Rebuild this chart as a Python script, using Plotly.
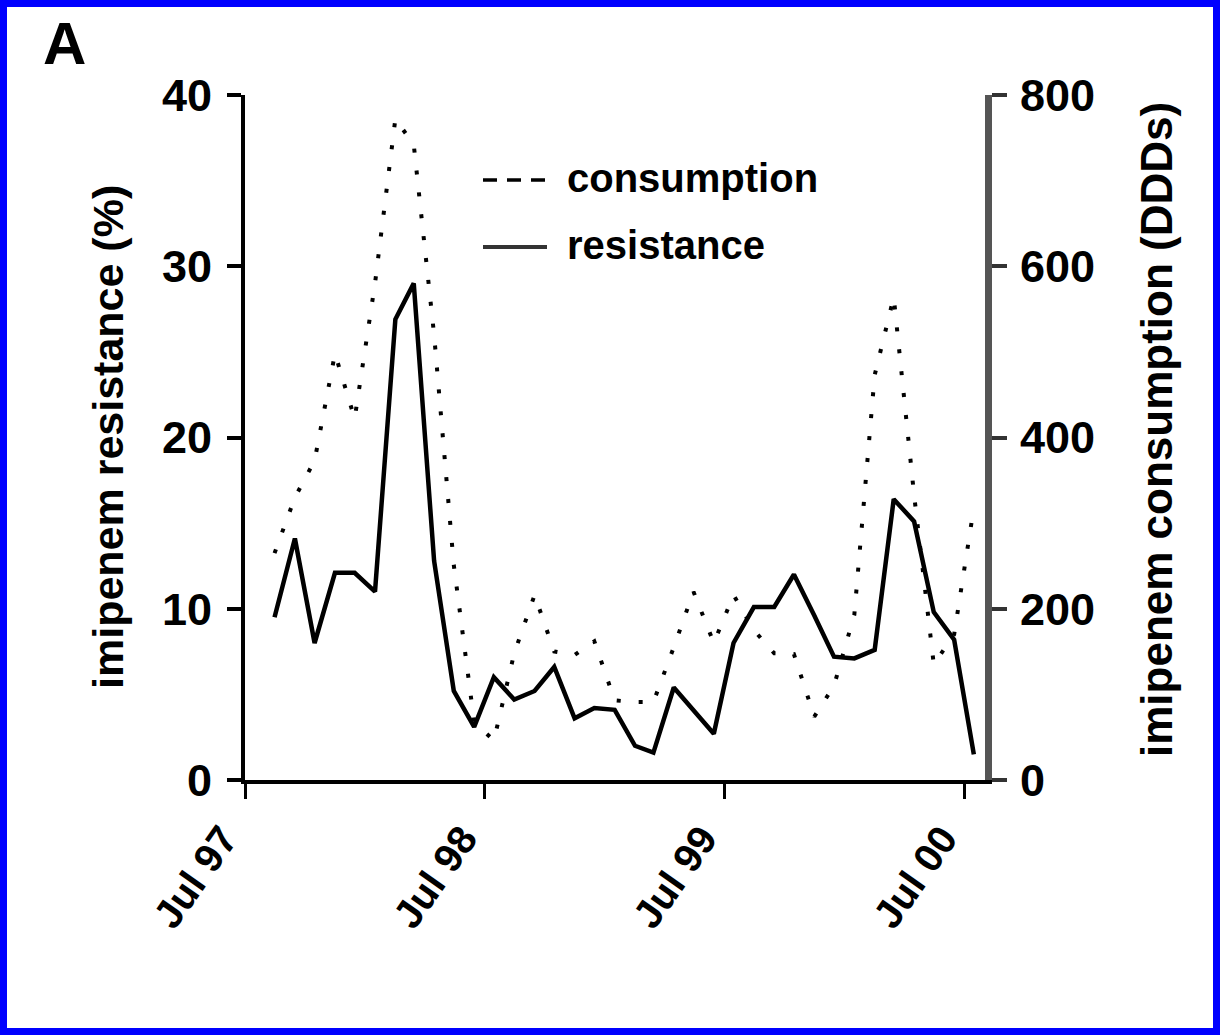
import pandas as pd
import plotly.graph_objects as go

# ---- data ----
months = ["1997-08", "1997-09", "1997-10", "1997-11", "1997-12",
          "1998-01", "1998-02", "1998-03", "1998-04", "1998-05", "1998-06",
          "1998-07", "1998-08", "1998-09", "1998-10", "1998-11", "1998-12",
          "1999-01", "1999-02", "1999-03", "1999-04", "1999-05", "1999-06",
          "1999-07", "1999-08", "1999-09", "1999-10", "1999-11", "1999-12",
          "2000-01", "2000-02", "2000-03", "2000-04", "2000-05", "2000-06",
          "2000-07"]

resistance = [9.5, 14.1, 8.0, 12.1, 12.1, 11.0, 26.9, 29.0, 12.8, 5.2, 3.1,
              6.0, 4.7, 5.2, 6.6, 3.6, 4.2, 4.1, 2.0, 1.6, 5.4, 4.1, 2.7,
              8.0, 10.1, 10.1, 12.0, 9.6, 7.2, 7.1, 7.6, 16.4, 15.1, 9.8, 8.2,
              1.5]

consumption = [265, 330, 373, 498, 422, 580, 772, 742, 520, 251, 68,
               46, 148, 216, 150, 146, 162, 93, 91, 91, 155, 220, 160,
               216, 175, 148, 147, 74, 110, 193, 473, 564, 333, 135, 170,
               318]

tick_dates = ["1997-07-01", "1998-07-01", "1999-07-01", "2000-07-01"]
tick_labels = ["Jul 97", "Jul 98", "Jul 99", "Jul 00"]
left_ticks = [0, 10, 20, 30, 40]
right_ticks = [0, 200, 400, 600, 800]

# mid-month positions
x = pd.to_datetime(months) + pd.Timedelta(days=14)

FONT = "Liberation Sans, Arial, sans-serif"

fig = go.Figure()

fig.add_trace(go.Scatter(
    x=x, y=consumption, name="consumption", yaxis="y2", mode="lines",
    line=dict(color="black", width=4, dash="4px,18px"),
    showlegend=False,
))
fig.add_trace(go.Scatter(
    x=x, y=resistance, name="resistance", yaxis="y", mode="lines",
    line=dict(color="black", width=4.5),
    showlegend=False,
))

# paper-coordinate helpers (plot area: x 245..985 px, y 95..780 px)
L, R, T, B = 245, 985, 95, 780
def px(v):
    return (v - L) / (R - L)
def py(v):
    return (B - v) / (B - T)

shapes = [
    # white page inside blue frame
    dict(type="rect", xref="paper", yref="paper", layer="below",
         x0=px(7), x1=px(1213), y0=py(1028), y1=py(7),
         fillcolor="white", line=dict(width=0)),
    # legend samples
    dict(type="line", xref="paper", yref="paper",
         x0=px(483), x1=px(547), y0=py(180), y1=py(180),
         line=dict(color="black", width=3.5, dash="14px,10px")),
    dict(type="line", xref="paper", yref="paper",
         x0=px(483), x1=px(547), y0=py(247), y1=py(247),
         line=dict(color="#333333", width=4)),
]

annotations = [
    dict(text="consumption", xref="paper", yref="paper", x=px(565), y=py(178),
         xanchor="left", yanchor="middle", showarrow=False,
         font=dict(family=FONT, size=40, color="black", weight="bold")),
    dict(text="resistance", xref="paper", yref="paper", x=px(565), y=py(245),
         xanchor="left", yanchor="middle", showarrow=False,
         font=dict(family=FONT, size=40, color="black", weight="bold")),
    dict(text="A", xref="paper", yref="paper", x=px(64), y=py(43),
         xanchor="center", yanchor="middle", showarrow=False,
         font=dict(family=FONT, size=60, color="black", weight="bold")),
    dict(text="imipenem resistance (%)", xref="paper", yref="paper",
         x=px(108), y=py(437), xanchor="center", yanchor="middle",
         textangle=-90, showarrow=False,
         font=dict(family=FONT, size=43, color="black", weight="bold")),
    dict(text="imipenem consumption (DDDs)", xref="paper", yref="paper",
         x=px(1157), y=py(430), xanchor="center", yanchor="middle",
         textangle=-90, showarrow=False,
         font=dict(family=FONT, size=44, color="black", weight="bold")),
]

fig.update_layout(
    width=1220, height=1035, autosize=False,
    margin=dict(l=L, r=1220 - R, t=T, b=1035 - B, pad=0),
    paper_bgcolor="#0000ff", plot_bgcolor="white",
    showlegend=False,
    shapes=shapes, annotations=annotations,
    xaxis=dict(
        type="date", range=["1997-07-01", "2000-08-01"],
        tickmode="array", tickvals=tick_dates, ticktext=tick_labels,
        tickangle=-55, showgrid=False, zeroline=False,
        showline=True, linecolor="black", linewidth=4,
        ticks="outside", ticklen=15, tickwidth=3, tickcolor="black",
        ticklabelstandoff=0, ticklabelshift=-22,
        tickfont=dict(family=FONT, size=40, color="black", weight="bold"),
    ),
    yaxis=dict(
        range=[0, 40], tickmode="array", tickvals=left_ticks,
        showgrid=False, zeroline=False,
        showline=True, linecolor="black", linewidth=4,
        ticks="outside", ticklen=14, tickwidth=4, tickcolor="black",
        ticklabelstandoff=6,
        tickfont=dict(family=FONT, size=45, color="black", weight="bold"),
    ),
    yaxis2=dict(
        range=[0, 800], tickmode="array", tickvals=right_ticks,
        overlaying="y", side="right",
        showgrid=False, zeroline=False,
        showline=True, linecolor="#555555", linewidth=7,
        ticks="outside", ticklen=15, tickwidth=4, tickcolor="#333333",
        ticklabelstandoff=4,
        tickfont=dict(family=FONT, size=45, color="black", weight="bold"),
    ),
)

fig.write_html("out.html")
